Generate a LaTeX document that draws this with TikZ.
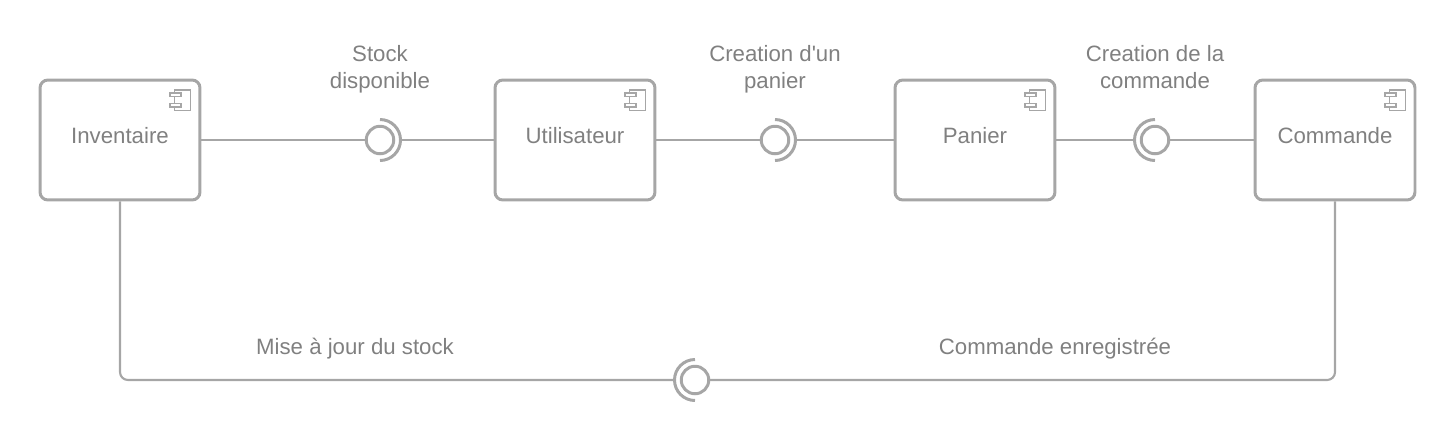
\documentclass[tikz,border=0pt]{standalone}
\usepackage{fontspec}
\setmainfont{Liberation Sans}
\usepackage{xcolor}
\usetikzlibrary{positioning}
\definecolor{edgegray}{HTML}{A6A6A6}
\definecolor{textgray}{HTML}{808080}
\tikzset{
  compbox/.style={draw=edgegray,line width=1.7pt,rounded corners=4.5pt,minimum width=3.2cm,minimum height=2.4cm,inner sep=0pt},
  iface/.style={circle,draw=edgegray,line width=1.7pt,minimum size=0.55cm,inner sep=0pt},
  conn/.style={draw=edgegray,line width=1.2pt},
  capt/.style={text=textgray,inner sep=0pt,align=center,font=\fontsize{12.65}{15.3}\selectfont}
}

\begin{document}
\begin{tikzpicture}[x=0.02cm,y=0.02cm]
\useasboundingbox (0,0) rectangle (1455,-440);
% components
\node (inventaire) [compbox] at (120,-140) {};
\node (utilisateur) [compbox] at (575,-140) {};
\node (panier) [compbox] at (975,-140) {};
\node (commande) [compbox] at (1335,-140) {};
\node (inventairetxt) [capt] at (120,-136) {Inventaire};
\node (utilisateurtxt) [capt] at (575,-136) {Utilisateur};
\node (paniertxt) [capt] at (975,-136) {Panier};
\node (commandetxt) [capt] at (1335,-136) {Commande};
% component icons
\foreach \comp in {inventaire,utilisateur,panier,commande} {
  \begin{scope}[shift={(\comp.center)},line width=0.6pt]
  \draw [edgegray] (54.5,50) rectangle (70.7,29.5);
  \draw [edgegray,fill=white] (50,47) rectangle (61,43.3);
  \draw [edgegray,fill=white] (50,36.7) rectangle (61,33);
  \end{scope}
}
% interfaces
\node (stock) [iface] at (380,-140) {};
\node (creapanier) [iface] at (775,-140) {};
\node (creacmd) [iface] at (1155,-140) {};
\node (majstock) [iface] at (695,-380) {};
\coordinate (stockarc) at (400.5,-140);
\coordinate (creapanierarc) at (795.5,-140);
\coordinate (creacmdarc) at (1134.5,-140);
\coordinate (majstockarc) at (674.5,-380);
\draw [edgegray,line width=1.7pt] (380,-119.5) arc (90:-90:20.5);
\draw [edgegray,line width=1.7pt] (775,-119.5) arc (90:-90:20.5);
\draw [edgegray,line width=1.7pt] (1155,-119.5) arc (90:270:20.5);
\draw [edgegray,line width=1.7pt] (695,-359.5) arc (90:270:20.5);
% connectors
\draw [conn] (inventaire.east) -- (stock.west);
\draw [conn] (stockarc) -- (utilisateur.west);
\draw [conn] (utilisateur.east) -- (creapanier.west);
\draw [conn] (creapanierarc) -- (panier.west);
\draw [conn] (panier.east) -- (creacmdarc);
\draw [conn] (creacmd.east) -- (commande.west);
\draw [conn,rounded corners=4.5pt] (inventaire.south) |- (majstockarc);
\draw [conn,rounded corners=4.5pt] (commande.south) |- (majstock.east);
% labels
\node (stocktxt) [capt] at (380,-69) {Stock\\disponible};
\node (creapaniertxt) [capt] at (775,-69) {Creation d\textquotesingle un\\panier};
\node (creacmdtxt) [capt] at (1155,-67) {Creation de la\\commande};
\node (majstocktxt) [capt] at (355,-349) {Mise à jour du stock};
\node (enregtxt) [capt] at (1055,-349) {Commande enregistrée};
\end{tikzpicture}
\end{document}
